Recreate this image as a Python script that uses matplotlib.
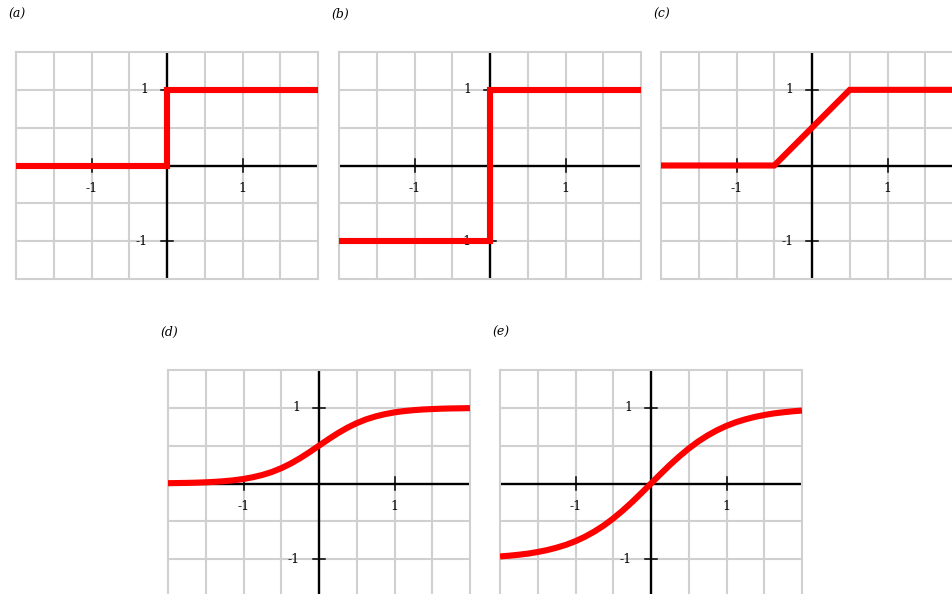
import matplotlib.pyplot as plt

# Funciones de activación: escalón, signo, lineal saturada, sigmoide, tanh
x_escalon = [-2.0, 0.0, 0.0, 2.0]
y_escalon = [0.0, 0.0, 1.0, 1.0]

x_signo = [-2.0, 0.0, 0.0, 2.0]
y_signo = [-1.0, -1.0, 1.0, 1.0]

x_lineal = [-2.0, -0.5, 0.5, 2.0]
y_lineal = [0.0, 0.0, 1.0, 1.0]

x_curva = [-2.0, -1.875, -1.75, -1.625, -1.5, -1.375, -1.25, -1.125, -1.0,
           -0.875, -0.75, -0.625, -0.5, -0.375, -0.25, -0.125, 0.0,
           0.125, 0.25, 0.375, 0.5, 0.625, 0.75, 0.875, 1.0,
           1.125, 1.25, 1.375, 1.5, 1.625, 1.75, 1.875, 2.0]

y_sigmoide = [0.004, 0.006, 0.008, 0.011, 0.016, 0.022, 0.031, 0.043, 0.060,
              0.083, 0.113, 0.152, 0.202, 0.263, 0.335, 0.415, 0.5,
              0.585, 0.665, 0.737, 0.798, 0.848, 0.887, 0.917, 0.940,
              0.957, 0.969, 0.978, 0.984, 0.989, 0.992, 0.994, 0.996]

y_tanh = [-0.964, -0.954, -0.941, -0.926, -0.905, -0.880, -0.848, -0.810, -0.762,
          -0.704, -0.635, -0.555, -0.462, -0.358, -0.245, -0.124, 0.0,
          0.124, 0.245, 0.358, 0.462, 0.555, 0.635, 0.704, 0.762,
          0.810, 0.848, 0.880, 0.905, 0.926, 0.941, 0.954, 0.964]

etiquetas = ['(a)', '(b)', '(c)', '(d)', '(e)']
series = [(x_escalon, y_escalon), (x_signo, y_signo), (x_lineal, y_lineal),
          (x_curva, y_sigmoide), (x_curva, y_tanh)]

rejilla_x = [-1.5, -1.0, -0.5, 0.5, 1.0, 1.5]
rejilla_y = [-1.0, -0.5, 0.5, 1.0]
marcas = [-1, 1]

W, H = 952, 594
# posiciones de cada panel en pixeles (izquierda, arriba)
posiciones = [(16, 52), (339, 52), (661, 52), (168, 370), (500, 370)]
ancho, alto = 302, 227

fig = plt.figure(figsize=(W / 100, H / 100), dpi=100)
gris = '#d0d0d0'

for etiqueta, (xs, ys), (px, py) in zip(etiquetas, series, posiciones):
    ax = fig.add_axes([px / W, (H - py - alto) / H, ancho / W, alto / H])
    ax.set_xlim(-2, 2)
    ax.set_ylim(-1.5, 1.5)
    ax.set_xticks([])
    ax.set_yticks([])
    for s in ax.spines.values():
        s.set_color(gris)
        s.set_linewidth(1.5)
    for g in rejilla_x:
        ax.axvline(g, color=gris, lw=1.5, zorder=1)
    for g in rejilla_y:
        ax.axhline(g, color=gris, lw=1.5, zorder=1)
    ax.axhline(0, color='black', lw=1.7, zorder=2)
    ax.axvline(0, color='black', lw=1.7, zorder=2)

    # marcas en los ejes
    for m in marcas:
        ax.plot([m, m], [-0.08, 0.08], color='black', lw=1.1, zorder=2)
        ax.plot([-0.08, 0.08], [m, m], color='black', lw=1.1, zorder=2)
        ax.text(m, -0.31, str(m), ha='center', va='center',
                fontsize=9, family='DejaVu Serif', zorder=3)
        ax.text(-0.25, m, str(m), ha='right', va='center',
                fontsize=9, family='DejaVu Serif', zorder=3)

    ax.plot(xs, ys, color='#ff0000', lw=4.4, zorder=5,
            solid_joinstyle='miter', solid_capstyle='butt')

    fig.text((px - 8) / W, 1 - (py - 38) / H, etiqueta, ha='left', va='center',
             fontsize=9, family='DejaVu Serif', style='italic')

fig.savefig('out.png', dpi=100)
